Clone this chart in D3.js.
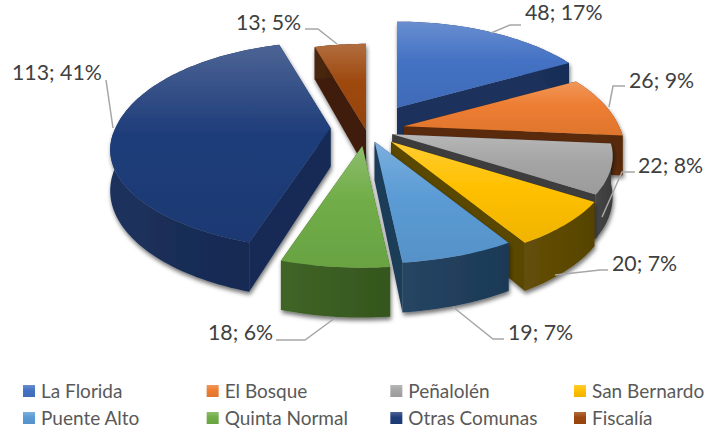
<!DOCTYPE html>
<html>
<head>
<meta charset="utf-8">
<script src="https://cdn.jsdelivr.net/npm/d3@7"></script>
<style>
    html, body { margin: 0; padding: 0; background: #fff; }
    svg { display: block; }
    text { font-family: Lato, "Open Sans", sans-serif; }
</style>
</head>
<body>
<svg width="717" height="431"></svg>
<script>
var comunas = ["La Florida", "El Bosque", "Peñalolén", "San Bernardo",
    "Puente Alto", "Quinta Normal", "Otras Comunas", "Fiscalía"];
var casos = [48, 26, 22, 20, 19, 18, 113, 13];
var porcentajes = [17, 9, 8, 7, 7, 6, 41, 5];

// styling and layout only
var colores = ["#4472c4", "#ed7d31", "#a5a5a5", "#ffc000", "#5b9bd5", "#70ad47", "#1f3d7a", "#9e480e"];
var lados = ["#1b3361", "#5f2c09", "#404040", "#5f4a00", "#1f3f5e", "#3a5f20", "#162c58", "#42200a"];
var explode = [0.28, 0.18, 0.13, 0.17, 0.13, 0.17, 0.165, 0];
var ajusteY = [3, 0, 0, 0, 0, 0, -2, 0];
var labelPos = [[525, 20], [629, 88], [638, 173], [612, 271], [508, 340], [208, 340], [12, 80], [236, 30]];
var leaders = [
    [[491, 33], [510, 25], [521, 25]],
    [[609, 107], [613, 86], [625, 86]],
    [[602, 217], [622, 172], [635, 172]],
    [[555, 275], [600, 270], [608, 270]],
    [[453, 307], [493, 339], [504, 339]],
    [[335, 318], [305, 340], [276, 340]],
    [[113, 128], [106, 80]],
    [[337, 44], [318, 29], [305, 29]]
];

var svg = d3.select("svg");
var defs = svg.append("defs");

var shadow = defs.append("filter").attr("id", "sombra")
    .attr("x", "-10%").attr("y", "-10%").attr("width", "125%").attr("height", "125%");
shadow.append("feDropShadow").attr("dx", 1).attr("dy", 3)
    .attr("stdDeviation", 2).attr("flood-color", "#000").attr("flood-opacity", 0.55);

var cx = 366, cy = 130, grosor = 39, dist = 4.57;
var xScale = d3.scaleLinear().domain([-1, 1]).range([-215, 215]);
var yScale = d3.scaleLinear().domain([-1, 0, 1]).range([95, 0, -105]);

var pie = d3.pie().sort(null);
var arcos = pie(casos).map(function (d, i) {
    var mid = (d.startAngle + d.endAngle) / 2;
    return {
        i: i, a0: d.startAngle, a1: d.endAngle,
        // explosion is a flat screen shift, perspective only applies to the slice shape
        dx: xScale(explode[i] * Math.sin(mid)),
        dy: yScale(explode[i] * Math.cos(mid)) + ajusteY[i],
        fondo: Math.cos(mid)
    };
});

function punto(d, r, a, z) {
    var px = r * Math.sin(a), py = r * Math.cos(a);
    var s = dist / (dist + py);
    return [cx + d.dx + s * xScale(px), cy + d.dy + s * (yScale(py) + z * grosor)];
}
function borde(d, z) {
    var n = Math.ceil((d.a1 - d.a0) * 40);
    return d3.range(n + 1).map(function (k) {
        return punto(d, 1, d.a0 + (d.a1 - d.a0) * k / n, z);
    });
}
var linea = d3.line();

colores.forEach(function (c, i) {
    var g = defs.append("linearGradient").attr("id", "top" + i)
        .attr("x1", 0).attr("y1", 0).attr("x2", 0).attr("y2", 1);
    g.append("stop").attr("offset", 0).attr("stop-color", d3.interpolateRgb(c, "#fff")(0.2));
    g.append("stop").attr("offset", 0.45).attr("stop-color", c);
    g.append("stop").attr("offset", 1).attr("stop-color", d3.interpolateRgb(c, "#000")(0.06));

    var l = defs.append("linearGradient").attr("id", "lado" + i)
        .attr("x1", 0).attr("y1", 0).attr("x2", 1).attr("y2", 0);
    l.append("stop").attr("offset", 0).attr("stop-color", d3.interpolateRgb(lados[i], "#fff")(0.03));
    l.append("stop").attr("offset", 1).attr("stop-color", d3.interpolateRgb(lados[i], "#000")(0.1));
});

// painter's order, back slices first
var orden = arcos.slice().sort(function (a, b) { return b.fondo - a.fondo; });

var slices = svg.selectAll(".slice").data(orden).enter().append("g")
    .attr("class", "slice")
    .attr("filter", "url(#sombra)");

// cut faces
slices.selectAll(".corte").data(function (d) {
    return [d.a0, d.a1].map(function (a) { return { d: d, a: a }; });
}).enter().append("path")
    .attr("class", "corte")
    .attr("fill", function (e) { return d3.interpolateRgb(lados[e.d.i], "#000")(0.05); })
    .attr("d", function (e) {
        return linea([punto(e.d, 0, 0, 0), punto(e.d, 1, e.a, 0), punto(e.d, 1, e.a, 1), punto(e.d, 0, 0, 1)]) + "Z";
    });

// outer wall
slices.append("path")
    .attr("fill", function (d) { return "url(#lado" + d.i + ")"; })
    .attr("d", function (d) {
        return linea(borde(d, 0).concat(borde(d, 1).reverse())) + "Z";
    });

// top face
slices.append("path")
    .attr("fill", function (d) { return "url(#top" + d.i + ")"; })
    .attr("d", function (d) {
        return linea([punto(d, 0, 0, 0)].concat(borde(d, 0))) + "Z";
    });

// leader lines
svg.selectAll(".leader").data(leaders).enter().append("path")
    .attr("class", "leader")
    .attr("fill", "none")
    .attr("stroke", "#a6a6a6")
    .attr("stroke-width", 1.5)
    .attr("d", function (d) { return linea(d); });

// data labels
svg.selectAll(".etiqueta").data(casos).enter().append("text")
    .attr("class", "etiqueta")
    .attr("x", function (d, i) { return labelPos[i][0]; })
    .attr("y", function (d, i) { return labelPos[i][1]; })
    .attr("font-size", 21.3)
    .attr("fill", "#404040")
    .text(function (d, i) { return d + "; " + porcentajes[i] + "%"; });

// legend
var legX = d3.scalePoint().domain([0, 1, 2, 3]).range([23, 574]);
var legY = d3.scalePoint().domain([0, 1]).range([391, 418]);
var leg = svg.selectAll(".leg").data(comunas).enter().append("g")
    .attr("class", "leg")
    .attr("transform", function (d, i) {
        return "translate(" + legX(i % 4) + "," + legY(Math.floor(i / 4)) + ")";
    });
leg.append("rect")
    .attr("x", 0).attr("y", -6).attr("width", 12).attr("height", 12)
    .attr("fill", function (d, i) { return "url(#top" + i + ")"; });
leg.append("text")
    .attr("x", 18).attr("y", 6.5)
    .attr("font-size", 19)
    .attr("fill", "#595959")
    .text(function (d) { return d; });
</script>
</body>
</html>
